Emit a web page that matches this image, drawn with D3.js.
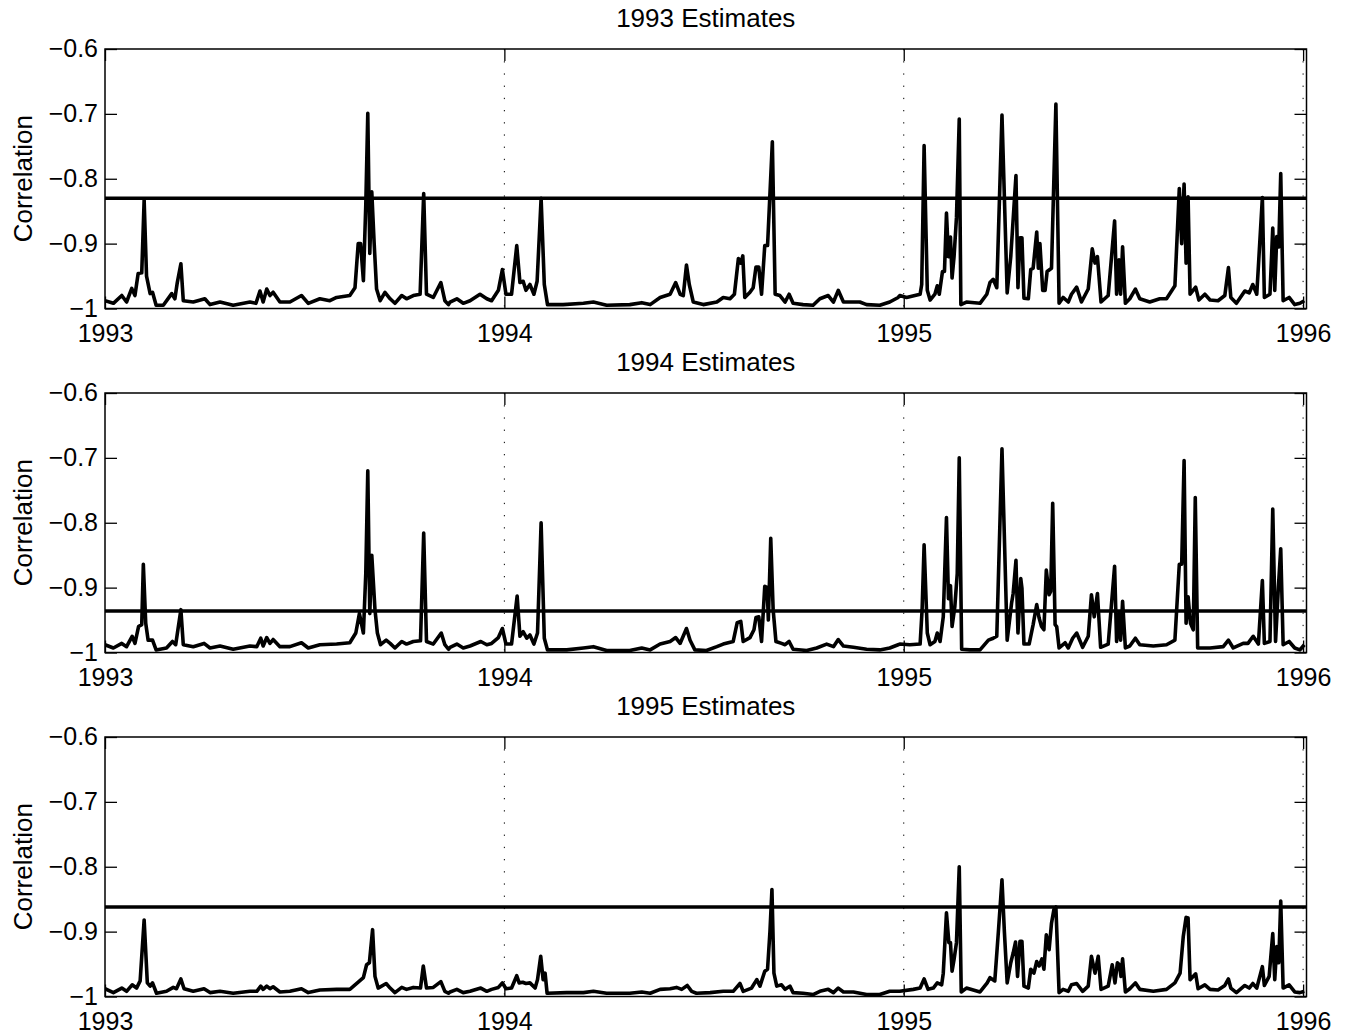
<!DOCTYPE html>
<html>
<head>
<meta charset="utf-8">
<script src="https://cdn.jsdelivr.net/npm/d3@7"></script>
<style>
  body { margin: 0; background: #fff; }
</style>
</head>
<body>
<svg id="chart"></svg>
<script>
const width = 1353;
const height = 1036;
const baseYear = 1993;

const panelTitles = ["1993 Estimates", "1994 Estimates", "1995 Estimates"];
const thresholds = [-0.83, -0.936, -0.862];
const yearTicks = [1993, 1994, 1995, 1996];
const gridYears = [1994, 1995, 1996];
const corrTicks = [-1, -0.9, -0.8, -0.7, -0.6];

// [years since start of 1993, correlation]
const est1993 = [[0,-0.988],[0.021,-0.992],[0.042,-0.98],[0.054,-0.99],[0.067,-0.969],[0.075,-0.98],[0.083,-0.946],[0.092,-0.945],[0.098,-0.833],[0.104,-0.95],[0.113,-0.977],[0.119,-0.975],[0.128,-0.995],[0.146,-0.995],[0.167,-0.977],[0.175,-0.985],[0.181,-0.96],[0.19,-0.931],[0.196,-0.988],[0.221,-0.99],[0.25,-0.985],[0.263,-0.994],[0.288,-0.99],[0.321,-0.995],[0.363,-0.99],[0.378,-0.992],[0.388,-0.973],[0.396,-0.99],[0.405,-0.97],[0.413,-0.98],[0.421,-0.975],[0.438,-0.99],[0.463,-0.99],[0.492,-0.98],[0.509,-0.992],[0.538,-0.985],[0.563,-0.988],[0.58,-0.983],[0.613,-0.98],[0.626,-0.968],[0.634,-0.9],[0.64,-0.9],[0.647,-0.957],[0.653,-0.84],[0.658,-0.699],[0.663,-0.915],[0.668,-0.82],[0.674,-0.9],[0.68,-0.97],[0.689,-0.988],[0.701,-0.975],[0.714,-0.985],[0.726,-0.992],[0.743,-0.98],[0.755,-0.985],[0.772,-0.98],[0.789,-0.978],[0.798,-0.823],[0.805,-0.978],[0.822,-0.983],[0.841,-0.96],[0.851,-0.988],[0.86,-0.994],
  [0.864,-0.99],[0.881,-0.985],[0.897,-0.992],[0.914,-0.988],[0.939,-0.978],[0.956,-0.985],[0.968,-0.988],[0.985,-0.972],[0.995,-0.94],[1.004,-0.978],[1.018,-0.978],[1.031,-0.903],[1.039,-0.96],[1.047,-0.958],[1.054,-0.972],[1.064,-0.963],[1.074,-0.978],[1.082,-0.958],[1.092,-0.83],[1.1,-0.963],[1.108,-0.994],[1.147,-0.994],[1.198,-0.992],[1.223,-0.99],[1.256,-0.995],[1.314,-0.994],[1.344,-0.991],[1.365,-0.994],[1.39,-0.983],[1.415,-0.978],[1.429,-0.96],[1.44,-0.978],[1.448,-0.98],[1.456,-0.933],[1.463,-0.963],[1.473,-0.99],[1.498,-0.994],[1.532,-0.99],[1.548,-0.983],[1.565,-0.985],[1.576,-0.978],[1.586,-0.923],[1.592,-0.93],[1.597,-0.919],[1.602,-0.983],[1.615,-0.975],[1.623,-0.968],[1.63,-0.936],[1.637,-0.936],[1.644,-0.978],[1.652,-0.903],[1.659,-0.903],[1.671,-0.743],[1.678,-0.978],[1.69,-0.98],[1.703,-0.99],[1.713,-0.978],[1.723,-0.992],[1.748,-0.994],[1.773,-0.995],[1.79,-0.985],[1.811,-0.98],[1.824,-0.99],[1.836,-0.972],[1.849,-0.99],[1.865,-0.99],[1.89,-0.99],[1.907,-0.994],[1.94,-0.995],[1.965,-0.99],[1.986,-0.983],
  [1.99,-0.98],[2.007,-0.983],[2.041,-0.978],[2.045,-0.963],[2.051,-0.749],[2.059,-0.972],[2.066,-0.987],[2.078,-0.978],[2.084,-0.965],[2.089,-0.978],[2.097,-0.943],[2.102,-0.943],[2.107,-0.853],[2.112,-0.92],[2.117,-0.89],[2.121,-0.953],[2.126,-0.92],[2.132,-0.86],[2.139,-0.708],[2.143,-0.994],[2.157,-0.99],[2.191,-0.992],[2.208,-0.978],[2.216,-0.96],[2.224,-0.955],[2.233,-0.968],[2.246,-0.702],[2.259,-0.976],[2.268,-0.92],[2.281,-0.795],[2.286,-0.968],[2.291,-0.891],[2.296,-0.891],[2.301,-0.984],[2.312,-0.985],[2.318,-0.94],[2.324,-0.938],[2.333,-0.882],[2.337,-0.938],[2.341,-0.9],[2.348,-0.972],[2.354,-0.972],[2.359,-0.943],[2.37,-0.938],[2.381,-0.685],[2.389,-0.992],[2.399,-0.983],[2.412,-0.99],[2.42,-0.978],[2.433,-0.967],[2.445,-0.99],[2.462,-0.97],[2.472,-0.908],[2.479,-0.93],[2.485,-0.92],[2.494,-0.99],[2.512,-0.98],[2.528,-0.865],[2.533,-0.978],[2.539,-0.925],[2.543,-0.978],[2.548,-0.905],[2.555,-0.992],[2.566,-0.985],[2.58,-0.97],[2.591,-0.985],[2.616,-0.99],[2.641,-0.985],[2.658,-0.985],[2.679,-0.965],[2.69,-0.815],[2.696,-0.9],[2.702,-0.808],[2.707,-0.93],[2.712,-0.828],[2.717,-0.978],[2.731,-0.967],[2.739,-0.987],[2.754,-0.978],[2.767,-0.987],[2.787,-0.988],[2.804,-0.98],[2.813,-0.937],[2.819,-0.983],[2.833,-0.992],[2.854,-0.973],[2.865,-0.976],[2.874,-0.963],[2.884,-0.978],[2.898,-0.829],[2.903,-0.983],[2.917,-0.978],[2.924,-0.876],[2.929,-0.972],[2.934,-0.889],[2.939,-0.905],[2.944,-0.792],[2.95,-0.988],[2.965,-0.983],[2.979,-0.994],[2.992,-0.992],[3.003,-0.988]];

const est1994 = [[0,-0.988],[0.021,-0.993],[0.042,-0.986],[0.054,-0.991],[0.068,-0.975],[0.075,-0.986],[0.084,-0.96],[0.092,-0.957],[0.096,-0.864],[0.102,-0.955],[0.108,-0.981],[0.119,-0.981],[0.128,-0.996],[0.154,-0.993],[0.169,-0.983],[0.177,-0.988],[0.183,-0.963],[0.19,-0.934],[0.196,-0.988],[0.221,-0.991],[0.248,-0.986],[0.263,-0.993],[0.288,-0.99],[0.321,-0.995],[0.363,-0.99],[0.38,-0.991],[0.39,-0.978],[0.396,-0.99],[0.405,-0.977],[0.413,-0.986],[0.421,-0.98],[0.438,-0.991],[0.463,-0.991],[0.492,-0.985],[0.509,-0.993],[0.538,-0.988],[0.58,-0.987],[0.613,-0.985],[0.628,-0.97],[0.637,-0.94],[0.647,-0.97],[0.653,-0.878],[0.658,-0.72],[0.663,-0.94],[0.668,-0.85],[0.676,-0.934],[0.682,-0.97],[0.69,-0.988],[0.704,-0.981],[0.714,-0.986],[0.726,-0.993],[0.743,-0.983],[0.755,-0.987],[0.772,-0.983],[0.79,-0.982],[0.798,-0.816],[0.805,-0.983],[0.822,-0.987],[0.842,-0.97],[0.851,-0.988],[0.86,-0.995],
  [0.864,-0.992],[0.881,-0.987],[0.897,-0.993],[0.914,-0.99],[0.941,-0.983],[0.956,-0.988],[0.968,-0.986],[0.985,-0.977],[0.995,-0.963],[1.004,-0.987],[1.018,-0.987],[1.032,-0.913],[1.039,-0.975],[1.047,-0.968],[1.056,-0.978],[1.064,-0.973],[1.074,-0.987],[1.083,-0.97],[1.092,-0.8],[1.1,-0.978],[1.108,-0.996],[1.156,-0.996],[1.198,-0.993],[1.223,-0.991],[1.256,-0.997],[1.314,-0.997],[1.344,-0.993],[1.365,-0.996],[1.39,-0.987],[1.415,-0.983],[1.429,-0.977],[1.44,-0.986],[1.456,-0.963],[1.465,-0.981],[1.477,-0.996],[1.506,-0.997],[1.532,-0.991],[1.548,-0.987],[1.573,-0.983],[1.583,-0.954],[1.592,-0.952],[1.598,-0.983],[1.615,-0.977],[1.625,-0.965],[1.63,-0.946],[1.637,-0.945],[1.644,-0.983],[1.652,-0.898],[1.658,-0.9],[1.661,-0.95],[1.667,-0.824],[1.673,-0.934],[1.68,-0.983],[1.694,-0.986],[1.703,-0.988],[1.713,-0.983],[1.723,-0.995],[1.757,-0.997],[1.782,-0.993],[1.807,-0.987],[1.824,-0.991],[1.836,-0.98],[1.849,-0.99],[1.874,-0.992],[1.907,-0.995],[1.94,-0.996],[1.965,-0.993],[1.986,-0.988],
  [1.99,-0.987],[2.015,-0.988],[2.041,-0.987],[2.046,-0.934],[2.051,-0.834],[2.059,-0.97],[2.066,-0.988],[2.078,-0.983],[2.084,-0.97],[2.091,-0.983],[2.099,-0.945],[2.107,-0.792],[2.112,-0.917],[2.117,-0.897],[2.121,-0.96],[2.128,-0.929],[2.134,-0.878],[2.139,-0.7],[2.145,-0.995],[2.166,-0.996],[2.191,-0.996],[2.212,-0.981],[2.224,-0.978],[2.233,-0.975],[2.246,-0.686],[2.259,-0.981],[2.27,-0.924],[2.274,-0.909],[2.281,-0.858],[2.286,-0.97],[2.293,-0.886],[2.296,-0.901],[2.301,-0.987],[2.314,-0.987],[2.324,-0.957],[2.333,-0.926],[2.339,-0.947],[2.345,-0.96],[2.351,-0.965],[2.357,-0.873],[2.364,-0.911],[2.368,-0.906],[2.373,-0.77],[2.379,-0.957],[2.383,-0.96],[2.389,-0.993],[2.404,-0.985],[2.412,-0.993],[2.423,-0.978],[2.433,-0.97],[2.448,-0.992],[2.462,-0.975],[2.47,-0.911],[2.477,-0.945],[2.485,-0.909],[2.493,-0.992],[2.512,-0.987],[2.528,-0.867],[2.533,-0.983],[2.539,-0.94],[2.543,-0.981],[2.548,-0.921],[2.555,-0.993],[2.566,-0.99],[2.58,-0.978],[2.591,-0.988],[2.625,-0.99],[2.658,-0.988],[2.679,-0.981],[2.69,-0.864],[2.696,-0.864],[2.702,-0.704],[2.707,-0.955],[2.712,-0.914],[2.718,-0.955],[2.725,-0.965],[2.73,-0.761],[2.736,-0.993],[2.767,-0.993],[2.8,-0.991],[2.813,-0.981],[2.825,-0.993],[2.85,-0.986],[2.862,-0.986],[2.875,-0.975],[2.888,-0.987],[2.898,-0.889],[2.903,-0.986],[2.917,-0.983],[2.924,-0.779],[2.931,-0.983],[2.938,-0.9],[2.944,-0.84],[2.95,-0.988],[2.965,-0.983],[2.979,-0.993],[2.992,-0.996],[3.003,-0.988]];

const est1995 = [[0,-0.988],[0.021,-0.994],[0.042,-0.987],[0.054,-0.992],[0.068,-0.982],[0.079,-0.987],[0.088,-0.976],[0.098,-0.882],[0.106,-0.979],[0.113,-0.984],[0.119,-0.979],[0.129,-0.995],[0.154,-0.992],[0.171,-0.986],[0.179,-0.988],[0.19,-0.973],[0.198,-0.988],[0.221,-0.992],[0.248,-0.988],[0.263,-0.994],[0.288,-0.992],[0.321,-0.995],[0.363,-0.992],[0.38,-0.992],[0.39,-0.984],[0.396,-0.989],[0.405,-0.984],[0.413,-0.988],[0.421,-0.985],[0.438,-0.993],[0.463,-0.992],[0.492,-0.988],[0.509,-0.994],[0.538,-0.99],[0.58,-0.989],[0.613,-0.989],[0.634,-0.978],[0.647,-0.971],[0.655,-0.951],[0.662,-0.948],[0.67,-0.897],[0.676,-0.969],[0.684,-0.987],[0.704,-0.98],[0.714,-0.987],[0.726,-0.994],[0.743,-0.986],[0.755,-0.989],[0.772,-0.986],[0.79,-0.987],[0.797,-0.953],[0.805,-0.987],[0.822,-0.986],[0.841,-0.977],[0.851,-0.992],[0.86,-0.995],
  [0.864,-0.993],[0.881,-0.989],[0.897,-0.994],[0.914,-0.992],[0.941,-0.987],[0.956,-0.992],[0.968,-0.989],[0.985,-0.986],[0.995,-0.979],[1.004,-0.988],[1.018,-0.987],[1.031,-0.968],[1.037,-0.979],[1.046,-0.978],[1.054,-0.98],[1.064,-0.979],[1.077,-0.987],[1.083,-0.974],[1.091,-0.938],[1.097,-0.974],[1.102,-0.964],[1.107,-0.995],[1.156,-0.994],[1.198,-0.994],[1.223,-0.992],[1.256,-0.995],[1.314,-0.995],[1.344,-0.993],[1.365,-0.995],[1.39,-0.989],[1.415,-0.988],[1.431,-0.986],[1.444,-0.989],[1.458,-0.983],[1.469,-0.992],[1.481,-0.995],[1.515,-0.994],[1.548,-0.992],[1.573,-0.992],[1.59,-0.98],[1.598,-0.992],[1.619,-0.987],[1.632,-0.974],[1.64,-0.984],[1.652,-0.961],[1.659,-0.958],[1.665,-0.9],[1.67,-0.835],[1.675,-0.964],[1.682,-0.984],[1.694,-0.982],[1.703,-0.989],[1.715,-0.984],[1.723,-0.994],[1.748,-0.995],[1.773,-0.997],[1.79,-0.992],[1.811,-0.989],[1.824,-0.994],[1.836,-0.987],[1.849,-0.993],[1.874,-0.993],[1.907,-0.997],[1.94,-0.997],[1.965,-0.992],[1.986,-0.992],
  [1.99,-0.992],[2.024,-0.989],[2.041,-0.987],[2.051,-0.973],[2.061,-0.989],[2.074,-0.987],[2.084,-0.979],[2.095,-0.982],[2.099,-0.964],[2.107,-0.871],[2.113,-0.917],[2.117,-0.917],[2.121,-0.961],[2.126,-0.943],[2.132,-0.917],[2.139,-0.8],[2.144,-0.993],[2.157,-0.987],[2.191,-0.993],[2.209,-0.979],[2.216,-0.971],[2.228,-0.976],[2.237,-0.9],[2.246,-0.82],[2.252,-0.9],[2.259,-0.979],[2.268,-0.948],[2.274,-0.933],[2.28,-0.916],[2.285,-0.969],[2.291,-0.915],[2.296,-0.915],[2.301,-0.984],[2.312,-0.987],[2.318,-0.958],[2.326,-0.964],[2.333,-0.946],[2.339,-0.953],[2.346,-0.942],[2.351,-0.958],[2.357,-0.905],[2.364,-0.928],[2.37,-0.887],[2.376,-0.866],[2.381,-0.862],[2.389,-0.994],[2.399,-0.989],[2.412,-0.992],[2.42,-0.982],[2.433,-0.98],[2.448,-0.992],[2.462,-0.984],[2.47,-0.938],[2.479,-0.964],[2.487,-0.938],[2.494,-0.989],[2.512,-0.984],[2.522,-0.951],[2.529,-0.979],[2.535,-0.948],[2.54,-0.951],[2.544,-0.969],[2.548,-0.942],[2.555,-0.993],[2.566,-0.988],[2.58,-0.979],[2.591,-0.989],[2.625,-0.992],[2.658,-0.989],[2.679,-0.979],[2.692,-0.964],[2.7,-0.907],[2.707,-0.878],[2.712,-0.879],[2.717,-0.974],[2.731,-0.965],[2.737,-0.988],[2.754,-0.982],[2.767,-0.989],[2.787,-0.99],[2.804,-0.983],[2.813,-0.973],[2.819,-0.987],[2.833,-0.994],[2.854,-0.983],[2.865,-0.987],[2.874,-0.98],[2.884,-0.987],[2.898,-0.954],[2.903,-0.983],[2.915,-0.969],[2.924,-0.903],[2.929,-0.974],[2.934,-0.923],[2.939,-0.948],[2.944,-0.853],[2.95,-0.987],[2.965,-0.982],[2.979,-0.993],[2.992,-0.994],[3.003,-0.992]];

const seriesList = [est1993, est1994, est1995];

// layout
const plotLeft = 105;
const plotRight = 1306.5;
const panelTops = [49, 393, 737];
const panelHeight = 259.5;
const tickLen = 12;
const fontFamily = "'Liberation Sans', Arial, Helvetica, sans-serif";
const fontSize = "25px";

const svg = d3.select("#chart")
  .attr("width", width)
  .attr("height", height)
  .style("background", "#fff");

const x = d3.scaleLinear()
  .domain([baseYear, baseYear + 3.0085])
  .range([plotLeft, plotRight]);

seriesList.forEach((series, i) => {
  const top = panelTops[i];
  const y = d3.scaleLinear()
    .domain([-1, -0.6])
    .range([top + panelHeight, top]);

  const line = d3.line()
    .x((d) => x(baseYear + d[0]))
    .y((d) => y(d[1]));

  const g = svg.append("g").attr("class", "panel");

  // clip for the data
  const clipId = `clip-${i}`;
  svg.append("clipPath").attr("id", clipId)
    .append("rect")
    .attr("x", plotLeft).attr("y", top)
    .attr("width", plotRight - plotLeft).attr("height", panelHeight);

  // dotted grid at year ticks
  g.selectAll(".grid")
    .data(gridYears)
    .join("line")
    .attr("class", "grid")
    .attr("x1", (d) => x(d)).attr("x2", (d) => x(d))
    .attr("y1", top).attr("y2", top + panelHeight)
    .attr("stroke", "#000")
    .attr("stroke-width", 1)
    .attr("stroke-dasharray", "1.3 10.9");

  // correlation series
  g.append("path")
    .datum(series)
    .attr("clip-path", `url(#${clipId})`)
    .attr("d", line)
    .attr("fill", "none")
    .attr("stroke", "#000")
    .attr("stroke-width", 3.6)
    .attr("stroke-linejoin", "round");

  // threshold line
  g.append("line")
    .attr("x1", plotLeft).attr("x2", plotRight)
    .attr("y1", y(thresholds[i])).attr("y2", y(thresholds[i]))
    .attr("stroke", "#000")
    .attr("stroke-width", 3.6);

  // axes: inward ticks on all four sides
  const styleAxis = (sel) => {
    sel.select(".domain").remove();
    sel.selectAll(".tick line").attr("stroke", "#000").attr("stroke-width", 1.3);
    sel.selectAll("text")
      .attr("fill", "#000")
      .style("font-family", fontFamily)
      .style("font-size", fontSize);
  };

  g.append("g")
    .attr("transform", `translate(${plotLeft},0)`)
    .call(d3.axisLeft(y).tickValues(corrTicks).tickSizeInner(-tickLen).tickSizeOuter(0)
      .tickPadding(7).tickFormat(d3.format("")))
    .call(styleAxis)
    .call((sel) => sel.selectAll("text").attr("dy", "0.3em"));

  g.append("g")
    .attr("transform", `translate(${plotRight},0)`)
    .call(d3.axisRight(y).tickValues(corrTicks).tickSizeInner(-tickLen).tickSizeOuter(0)
      .tickFormat(""))
    .call(styleAxis);

  g.append("g")
    .attr("transform", `translate(0,${top + panelHeight})`)
    .call(d3.axisBottom(x).tickValues(yearTicks).tickSizeInner(-tickLen).tickSizeOuter(0)
      .tickPadding(16).tickFormat(d3.format("d")))
    .call(styleAxis);

  g.append("g")
    .attr("transform", `translate(0,${top})`)
    .call(d3.axisTop(x).tickValues(yearTicks).tickSizeInner(-tickLen).tickSizeOuter(0)
      .tickFormat(""))
    .call(styleAxis);

  // axes box
  g.append("rect")
    .attr("x", plotLeft).attr("y", top)
    .attr("width", plotRight - plotLeft).attr("height", panelHeight)
    .attr("fill", "none")
    .attr("stroke", "#000")
    .attr("stroke-width", 1.5);

  // title
  g.append("text")
    .attr("x", (plotLeft + plotRight) / 2)
    .attr("y", top - 22)
    .attr("text-anchor", "middle")
    .style("font-family", fontFamily)
    .style("font-size", "26px")
    .text(panelTitles[i]);

  // y label
  g.append("text")
    .attr("transform", `translate(32,${top + panelHeight / 2}) rotate(-90)`)
    .attr("text-anchor", "middle")
    .style("font-family", fontFamily)
    .style("font-size", "26px")
    .text("Correlation");
});
</script>
</body>
</html>
